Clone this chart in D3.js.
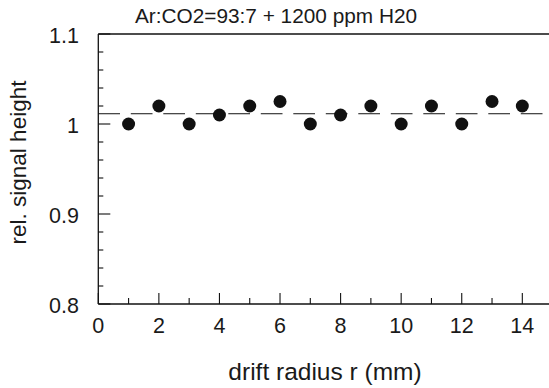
<!DOCTYPE html>
<html><head><meta charset="utf-8">
<script src="https://cdn.jsdelivr.net/npm/d3@7"></script>
<style>body{margin:0;background:#fff}text{font-family:"Liberation Sans",Arial,sans-serif;fill:#1a1a1a}</style>
</head><body>
<svg id="c" width="549" height="388"></svg>
<script>
const title = "Ar:CO2=93:7 + 1200 ppm H20";
const xLabel = "drift radius r (mm)";
const yLabel = "rel. signal height";
const radius = [1,2,3,4,5,6,7,8,9,10,11,12,13,14];
const signal = [1.0,1.02,1.0,1.01,1.02,1.025,1.0,1.01,1.02,1.0,1.02,1.0,1.025,1.02];
const meanLevel = 1.0114;
const xTickLabels = [0,2,4,6,8,10,12,14];
const yTickLabels = [0.8,0.9,1.0,1.1];

const svg = d3.select("#c");
const x = d3.scaleLinear().domain([0,15]).range([98.3,552.6]);
const y = d3.scaleLinear().domain([0.8,1.1]).range([304,34]);

// frame: left, bottom, top
svg.append("line").attr("x1",x(0)).attr("x2",549).attr("y1",y(1.1)).attr("y2",y(1.1)).attr("stroke","#111").attr("stroke-width",1.3);
svg.append("line").attr("x1",x(0)).attr("x2",549).attr("y1",y(0.8)).attr("y2",y(0.8)).attr("stroke","#111").attr("stroke-width",1.3);
svg.append("line").attr("x1",x(0)).attr("x2",x(0)).attr("y1",y(0.8)).attr("y2",y(1.1)).attr("stroke","#111").attr("stroke-width",1.3);

// y ticks (inside)
const yMinor = d3.range(0,16).map(i=>+(0.8+i*0.02).toFixed(2));
svg.selectAll(".yt").data(yMinor).enter().append("line")
  .attr("x1",x(0)).attr("x2",d=>x(0)+(yTickLabels.some(v=>Math.abs(v-d)<1e-6)?12:5))
  .attr("y1",d=>y(d)).attr("y2",d=>y(d)).attr("stroke","#111").attr("stroke-width",1.1);
svg.selectAll(".yl").data(yTickLabels).enter().append("text")
  .attr("x",79).attr("y",d=>y(d)+1.5).attr("text-anchor","end").attr("dominant-baseline","central")
  .attr("font-size",21.5).text(d=>d===1?"1":d3.format(".1f")(d));

// x ticks (inside)
const xMinor = d3.range(0,16);
svg.selectAll(".xt").data(xMinor).enter().append("line")
  .attr("x1",d=>x(d)).attr("x2",d=>x(d)).attr("y1",y(0.8))
  .attr("y2",d=>y(0.8)-(d%2===0?11:6)).attr("stroke","#111").attr("stroke-width",1.1);
svg.selectAll(".xl").data(xTickLabels).enter().append("text")
  .attr("x",d=>x(d)).attr("y",333).attr("text-anchor","middle")
  .attr("font-size",21.5).text(d=>d);

// dashed mean line
svg.append("line").attr("x1",x(0)).attr("x2",549).attr("y1",y(meanLevel)).attr("y2",y(meanLevel))
  .attr("stroke","#111").attr("stroke-width",1).attr("stroke-dasharray","21.7,10.8");

// points
svg.selectAll(".pt").data(radius).enter().append("circle")
  .attr("cx",d=>x(d)).attr("cy",(d,i)=>y(signal[i])).attr("r",6.5).attr("fill","#111");

// texts
svg.append("text").attr("x",276).attr("y",23).attr("text-anchor","middle").attr("font-size",20.8).text(title);
svg.append("text").attr("x",325).attr("y",380).attr("text-anchor","middle").attr("font-size",24.5).text(xLabel);
svg.append("text").attr("transform","translate(26,162.5) rotate(-90)").attr("text-anchor","middle").attr("font-size",22.5).text(yLabel);
</script>
</body></html>
